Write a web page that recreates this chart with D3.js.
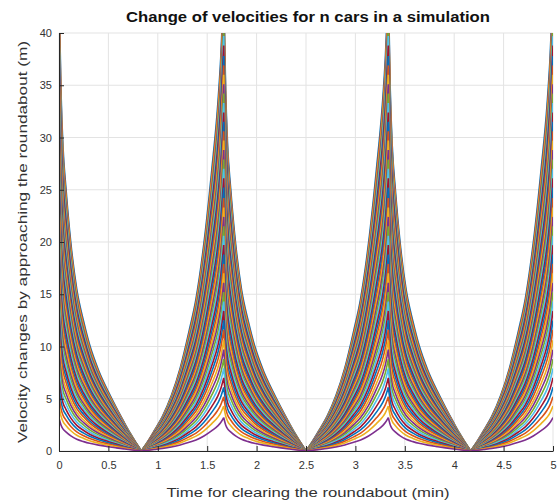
<!DOCTYPE html>
<html>
<head>
<meta charset="utf-8">
<script src="https://cdn.jsdelivr.net/npm/d3@7"></script>
<style>
  body { margin: 0; background: #fff; }
  text { font-family: "Liberation Sans", Arial, sans-serif; }
</style>
</head>
<body>
<div id="chart"></div>
<script>
// peak velocity change of each car (m), read at the cusps, car 1 first
const carPeaks = [44.2, 43.3, 42.4, 41.5, 40.6, 39.7, 38.8, 37.8, 36.9, 36.0,
  35.1, 34.2, 33.3, 32.4, 31.5, 30.6, 29.7, 28.8, 27.9, 27.0,
  26.1, 25.2, 24.2, 23.3, 22.4, 21.5, 20.6, 19.7, 18.8, 17.9,
  17.0, 16.1, 15.2, 14.3, 13.4, 12.5, 11.6, 10.6, 9.7, 8.8,
  7.9, 7.0, 6.1, 5.2, 4.3, 3.2];

// times of the velocity peaks (min)
const peakTimes = [0, 1.667, 3.333, 5];

// after a peak: minutes since the peak -> share of the peak
const fallDt = [0, 0.02, 0.04, 0.07, 0.12, 0.18, 0.25, 0.31, 0.4, 0.5, 0.58, 0.66, 0.72, 0.78, 0.833];
const fallShare = [1, 0.78, 0.66, 0.57, 0.45, 0.35, 0.28, 0.23, 0.175, 0.128, 0.094, 0.062, 0.039, 0.018, 0];

// before a peak: minutes until the peak -> share of the peak
const riseDt = [0, 0.03, 0.06, 0.12, 0.2, 0.28, 0.35, 0.44, 0.53, 0.62, 0.7, 0.77, 0.833];
const riseShare = [1, 0.85, 0.75, 0.61, 0.45, 0.33, 0.26, 0.18, 0.12, 0.075, 0.045, 0.02, 0];

const xTicks = [0, 0.5, 1, 1.5, 2, 2.5, 3, 3.5, 4, 4.5, 5];
const yTicks = [0, 5, 10, 15, 20, 25, 30, 35, 40];
const lineColors = ["#0072BD", "#D95319", "#EDB120", "#7E2F8E", "#77AC30", "#4DBEEE", "#A2142F"];

const width = 558;
const height = 504;
const margin = { top: 33, right: 5, bottom: 53, left: 59 };

const svg = d3.select("#chart")
  .append("svg")
  .attr("width", width)
  .attr("height", height);

const x = d3.scaleLinear().domain([0, 5]).range([margin.left, width - margin.right]);
const y = d3.scaleLinear().domain([0, 40]).range([height - margin.bottom, margin.top]);

svg.append("clipPath").attr("id", "plotArea")
  .append("rect")
  .attr("x", margin.left)
  .attr("y", margin.top)
  .attr("width", width - margin.left - margin.right)
  .attr("height", height - margin.top - margin.bottom);

// grid
svg.append("g").selectAll("line")
  .data(xTicks)
  .join("line")
  .attr("x1", (d) => x(d)).attr("x2", (d) => x(d))
  .attr("y1", y(0)).attr("y2", y(40))
  .attr("stroke", "#e3e3e3");
svg.append("g").selectAll("line")
  .data(yTicks)
  .join("line")
  .attr("x1", x(0)).attr("x2", x(5))
  .attr("y1", (d) => y(d)).attr("y2", (d) => y(d))
  .attr("stroke", "#e3e3e3");

// each car: one monotone piece per rise / fall
const pieces = (peak) => {
  const out = [];
  peakTimes.forEach((p) => {
    if (p > 0) {
      out.push(riseDt.map((dt, j) => [p - dt, peak * riseShare[j]]).reverse());
    }
    if (p < 5) {
      out.push(fallDt.map((dt, j) => [p + dt, peak * fallShare[j]]));
    }
  });
  return out;
};

const line = d3.line()
  .x((d) => x(d[0]))
  .y((d) => y(d[1]))
  .curve(d3.curveMonotoneX);

svg.append("g")
  .attr("clip-path", "url(#plotArea)")
  .selectAll("path")
  .data(carPeaks)
  .join("path")
  .attr("d", (d) => pieces(d).map(line).join(""))
  .attr("fill", "none")
  .attr("stroke", (d, i) => lineColors[i % lineColors.length])
  .attr("stroke-width", 1.6)
  .attr("stroke-linejoin", "round");

// axes
const xAxis = svg.append("g")
  .attr("transform", `translate(0,${y(0)})`)
  .call(d3.axisBottom(x).tickValues(xTicks).tickFormat(d3.format("~g"))
    .tickSizeInner(-5).tickSizeOuter(0).tickPadding(10));
const yAxis = svg.append("g")
  .attr("transform", `translate(${x(0)},0)`)
  .call(d3.axisLeft(y).tickValues(yTicks)
    .tickSizeInner(-5).tickSizeOuter(0).tickPadding(7));

[xAxis, yAxis].forEach((g) => {
  g.select(".domain").attr("stroke", "#262626");
  g.selectAll(".tick line").attr("stroke", "#262626");
  g.selectAll(".tick text")
    .style("font-size", "11px")
    .style("fill", "#333");
});

svg.append("text")
  .attr("x", 308)
  .attr("y", 22)
  .attr("text-anchor", "middle")
  .attr("textLength", 364)
  .attr("lengthAdjust", "spacingAndGlyphs")
  .style("font-size", "14px")
  .style("font-weight", "bold")
  .style("fill", "#111")
  .text("Change of velocities for n cars in a simulation");

svg.append("text")
  .attr("x", 308)
  .attr("y", 497)
  .attr("text-anchor", "middle")
  .attr("textLength", 283)
  .attr("lengthAdjust", "spacingAndGlyphs")
  .style("font-size", "13.5px")
  .style("fill", "#333")
  .text("Time for clearing the roundabout (min)");

svg.append("text")
  .attr("transform", `translate(27,${(y(0) + y(40)) / 2}) rotate(-90)`)
  .attr("text-anchor", "middle")
  .attr("textLength", 402)
  .attr("lengthAdjust", "spacingAndGlyphs")
  .style("font-size", "13.5px")
  .style("fill", "#333")
  .text("Velocity changes by approaching the roundabout (m)");
</script>
</body>
</html>
